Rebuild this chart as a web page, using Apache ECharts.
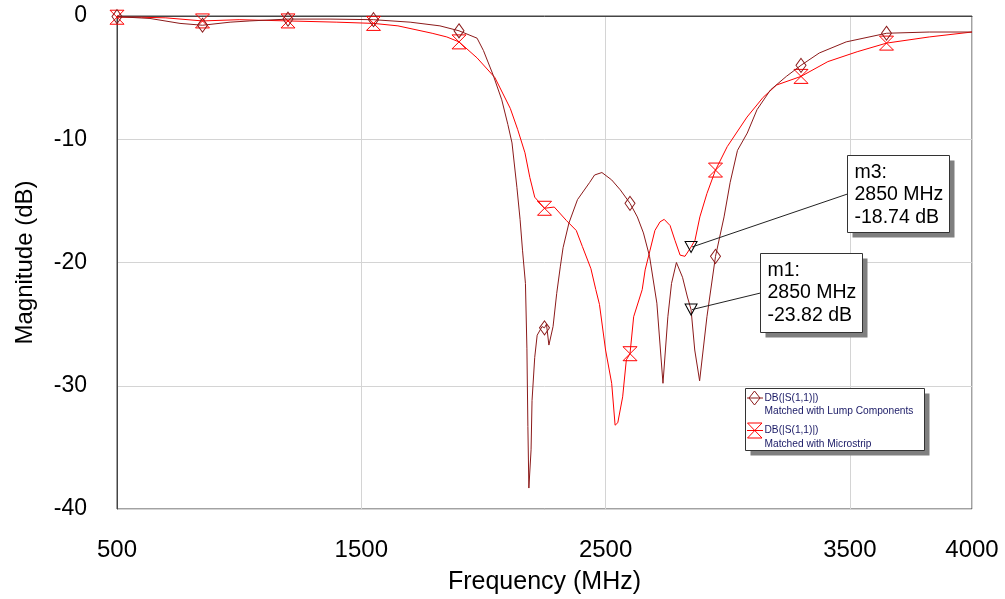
<!DOCTYPE html>
<html>
<head>
<meta charset="utf-8">
<title>DB(|S(1,1)|)</title>
<script src="https://cdn.jsdelivr.net/npm/echarts@6/dist/echarts.min.js"></script>
<style>
  html, body { margin: 0; padding: 0; background: #fff; }
  #chart { width: 1005px; height: 599px; }
</style>
</head>
<body>
<div id="chart"></div>
<script>
// S11 magnitude, lumped-element matching network (MHz, dB)
const lumpFreq = [500, 635, 758, 850, 963, 1044, 1200, 1372, 1550, 1700, 1822, 1900, 1974, 2000, 2040,
  2075, 2100, 2117, 2137, 2150, 2160, 2172, 2178, 2182, 2186, 2195, 2199, 2210, 2220, 2240, 2250, 2258,
  2268, 2285, 2300, 2315, 2326, 2350, 2385, 2435, 2455, 2485, 2525, 2560, 2600, 2630, 2655, 2680, 2710,
  2735, 2755, 2770, 2790, 2815, 2835, 2850, 2865, 2885, 2915, 2950, 2985, 3010, 3040, 3080, 3120, 3175,
  3240, 3300, 3375, 3485, 3650, 3825, 4000];
const lumpDb = [-0.05, -0.2, -0.6, -0.75, -0.5, -0.4, -0.25, -0.25, -0.3, -0.5, -0.8, -1.2, -1.8, -2.8, -4.8,
  -6.8, -8.8, -10.3, -13.9, -16.5, -19.0, -21.7, -27.0, -33.3, -38.3, -35.2, -31.2, -27.7, -25.9, -25.2, -25.3, -25.0,
  -26.7, -25.2, -22.5, -20.3, -18.8, -16.8, -14.9, -13.5, -12.9, -12.7, -13.3, -14.1, -15.2, -16.3, -17.6, -19.5, -23.3,
  -29.8, -24.4, -21.7, -20.0, -21.2, -22.8, -23.82, -27.1, -29.6, -24.4, -19.5, -16.3, -13.5, -10.9, -9.5, -7.6, -6.0,
  -4.9, -4.0, -3.0, -2.1, -1.4, -1.3, -1.3];

// S11 magnitude, microstrip matching network (MHz, dB)
const stripFreq = [500, 600, 700, 850, 1000, 1200, 1400, 1550, 1650, 1720, 1790, 1850, 1900, 1974, 2047,
  2110, 2140, 2170, 2190, 2210, 2250, 2290, 2340, 2380, 2405, 2440, 2460, 2475, 2500, 2525, 2539, 2550,
  2570, 2585, 2600, 2615, 2650, 2662, 2682, 2702, 2723, 2740, 2764, 2784, 2805, 2825, 2850, 2866, 2886,
  2915, 2950, 2998, 3079, 3145, 3200, 3300, 3410, 3530, 3650, 3825, 4000];
const stripDb = [-0.1, -0.1, -0.15, -0.4, -0.3, -0.4, -0.5, -0.6, -0.8, -1.1, -1.4, -1.7, -2.1, -3.4, -5.0,
  -7.5, -9.2, -11.1, -13.1, -14.7, -15.6, -15.5, -16.6, -17.4, -18.7, -20.5, -22.2, -23.4, -27.1, -29.8, -33.2, -33.0,
  -30.9, -27.9, -27.4, -24.4, -22.2, -20.6, -19.0, -17.4, -16.7, -16.5, -17.0, -18.2, -19.4, -19.5, -18.74, -18.2, -16.3,
  -14.4, -12.5, -10.6, -8.2, -6.6, -5.6, -4.9, -3.7, -2.9, -2.2, -1.7, -1.3];

// Frequencies that carry a trace symbol
const markerFreq = [500, 850, 1200, 1550, 1900, 2250, 2600, 2950, 3300, 3650];

// Readout markers
const readouts = [
  { name: 'm1', trace: 0, freq: 2850, db: -23.82, box: [69, -57, 102, 79] },
  { name: 'm3', trace: 1, freq: 2850, db: -18.74, box: [156, -92, 102, 77] }
];

// Axis ticks
const xTicks = [500, 1500, 2500, 3500, 4000];
const yTicks = [0, -10, -20, -30, -40];

const traceNames = ['Matched with Lump Components', 'Matched with Microstrip'];
const LUMP = '#8b1a1a';
const STRIP = '#ff0000';
const HOURGLASS = 'path://M0,0L10,0L0,10L10,10Z';
const TRIANGLE_DOWN = 'path://M0,0L10,0L5,9Z';
const SANS = '"Liberation Sans", Arial, sans-serif';

function traceData(freqs, dbs, symbol, size, color) {
  return freqs.map((f, i) => {
    const item = { value: [f, dbs[i]] };
    if (markerFreq.includes(f)) {
      item.symbol = symbol;
      item.symbolSize = size;
      item.itemStyle = { color: 'rgba(255,255,255,0)', borderColor: color, borderWidth: 1 };
    }
    return item;
  });
}

function readoutPoint(r) {
  return {
    coord: [r.freq, r.db],
    symbol: TRIANGLE_DOWN,
    symbolSize: [12, 11],
    itemStyle: { color: 'rgba(255,255,255,0)', borderColor: '#000', borderWidth: 1 },
    label: { show: false }
  };
}

const chart = echarts.init(document.getElementById('chart'), null, { renderer: 'canvas' });

chart.setOption({
  animation: false,
  backgroundColor: '#fff',
  grid: { left: 117, right: 33, top: 16, bottom: 90, outerBoundsMode: 'none', containLabel: false,
    show: true, borderColor: '#444', borderWidth: 1, backgroundColor: 'transparent' },
  xAxis: {
    type: 'value', min: xTicks[0], max: xTicks[xTicks.length - 1], interval: 1000,
    name: 'Frequency (MHz)', nameLocation: 'middle', nameGap: 61,
    nameTextStyle: { fontFamily: SANS, fontSize: 25, color: '#000' },
    axisLine: { show: true, lineStyle: { color: '#444', width: 1 } },
    axisTick: { show: false },
    axisLabel: { customValues: xTicks, formatter: v => String(v), fontFamily: SANS, fontSize: 24, color: '#000', margin: 29 },
    splitLine: { show: true, lineStyle: { color: '#d4d4d4', width: 1 } }
  },
  yAxis: {
    type: 'value', min: yTicks[yTicks.length - 1], max: yTicks[0], interval: 10,
    name: 'Magnitude (dB)', nameLocation: 'middle', nameGap: 80, nameRotate: 90,
    nameTextStyle: { fontFamily: SANS, fontSize: 24, color: '#000' },
    axisLine: { show: true, lineStyle: { color: '#444', width: 1 } },
    axisTick: { show: false },
    axisLabel: { customValues: yTicks, formatter: v => String(v), fontFamily: SANS, fontSize: 23, color: '#000',
      margin: 30, padding: [7, 0, 0, 0] },
    splitLine: { show: true, lineStyle: { color: '#d4d4d4', width: 1 } }
  },
  series: [
    {
      name: traceNames[0], type: 'line', symbol: 'none', showSymbol: true, showAllSymbol: true,
      data: traceData(lumpFreq, lumpDb, 'diamond', [10, 14], LUMP),
      lineStyle: { color: LUMP, width: 1 }, itemStyle: { color: LUMP },
      emphasis: { disabled: true }, z: 3,
      markPoint: { data: readouts.filter(r => r.trace === 0).map(readoutPoint), animation: false }
    },
    {
      name: traceNames[1], type: 'line', symbol: 'none', showSymbol: true, showAllSymbol: true,
      data: traceData(stripFreq, stripDb, HOURGLASS, [14, 14], STRIP),
      lineStyle: { color: STRIP, width: 1 }, itemStyle: { color: STRIP },
      emphasis: { disabled: true }, z: 2,
      markPoint: { data: readouts.filter(r => r.trace === 1).map(readoutPoint), animation: false }
    }
  ]
});

// Readout callouts and the trace key, placed from the axis scale
const graphics = [];
readouts.forEach(r => {
  const p = chart.convertToPixel({ gridIndex: 0 }, [r.freq, r.db]);
  const [dx, dy, w, h] = r.box;
  const bx = Math.round(p[0] + dx) + 0.5, by = Math.round(p[1] + dy) + 0.5;
  graphics.push(
    { type: 'line', shape: { x1: p[0] + 1, y1: p[1], x2: bx, y2: by + h / 2 }, style: { stroke: '#222', lineWidth: 1 }, z: 10 },
    { type: 'rect', shape: { x: bx + 5, y: by + 5, width: w, height: h }, style: { fill: '#7f7f7f' }, z: 10 },
    { type: 'rect', shape: { x: bx, y: by, width: w, height: h }, style: { fill: '#fff', stroke: '#333', lineWidth: 1 }, z: 11 }
  );
  [r.name + ':', r.freq + ' MHz', r.db.toFixed(2) + ' dB'].forEach((t, k) => {
    graphics.push({ type: 'text', x: bx + 7, y: by + 17 + k * 22.5, z: 12,
      style: { text: t, fill: '#000', font: '19.5px ' + SANS, textVerticalAlign: 'middle' } });
  });
});

// Trace key
const key = { x: 745.5, y: 388.5, w: 179, h: 62 };
graphics.push(
  { type: 'rect', shape: { x: key.x + 5, y: key.y + 5, width: key.w, height: key.h }, style: { fill: '#7f7f7f' }, z: 10 },
  { type: 'rect', shape: { x: key.x, y: key.y, width: key.w, height: key.h }, style: { fill: '#fff', stroke: '#333', lineWidth: 1 }, z: 11 }
);
const keyRows = [
  { color: LUMP, cy: 9.5, shape: (x, y) => [[x + 7.5, y - 7], [x + 13, y], [x + 7.5, y + 7], [x + 2, y]] },
  { color: STRIP, cy: 42, shape: (x, y) => [[x + 0.5, y - 7.5], [x + 15, y - 7.5], [x + 0.5, y + 7.5], [x + 15, y + 7.5]] }
];
keyRows.forEach((row, i) => {
  const ix = key.x + 1.5, iy = key.y + row.cy;
  graphics.push(
    { type: 'line', shape: { x1: ix, y1: iy, x2: ix + 16, y2: iy }, style: { stroke: row.color, lineWidth: 1 }, z: 12 },
    { type: 'polygon', shape: { points: row.shape(ix, iy) }, style: { fill: 'rgba(255,255,255,0)', stroke: row.color, lineWidth: 1 }, z: 12 },
    { type: 'text', x: key.x + 19, y: iy, z: 12,
      style: { text: 'DB(|S(1,1)|)', fill: '#1a1a66', font: '10.2px ' + SANS, textVerticalAlign: 'middle' } },
    { type: 'text', x: key.x + 19, y: iy + 13.5, z: 12,
      style: { text: traceNames[i], fill: '#1a1a66', font: '10.2px ' + SANS, textVerticalAlign: 'middle' } }
  );
});

chart.setOption({ graphic: graphics });
</script>
</body>
</html>
